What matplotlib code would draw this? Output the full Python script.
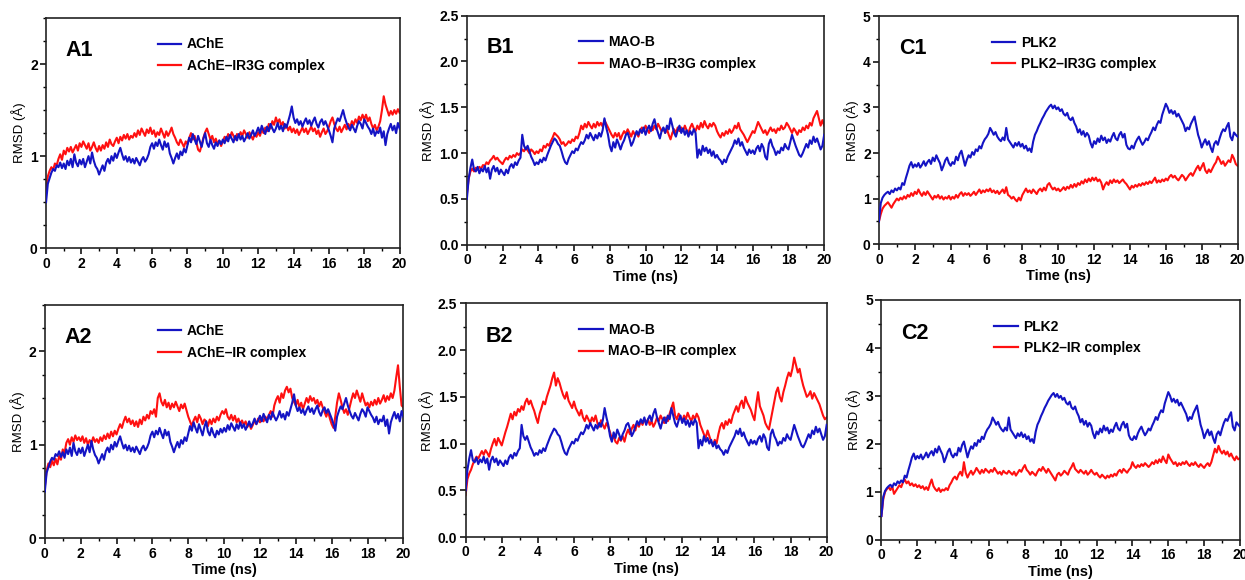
import matplotlib
matplotlib.use('Agg')
import matplotlib.pyplot as plt
from matplotlib.ticker import MultipleLocator
import numpy as np

plt.rcParams['font.family'] = ['Liberation Sans', 'DejaVu Sans']

# time axis, 0-20 ns every 0.1 ns
time_ns = np.round(np.arange(0, 20.01, 0.1), 1)

# RMSD traces (Å)
ache = [
    0.50, 0.70, 0.76, 0.82, 0.86, 0.84, 0.90, 0.88, 0.93, 0.87,
    0.92, 0.86, 0.95, 0.90, 0.97, 0.88, 1.02, 0.93, 0.89, 0.96,
    0.91, 0.97, 0.88, 0.94, 1.00, 0.92, 1.04, 0.95, 0.89, 0.86,
    0.80, 0.85, 0.90, 0.84, 0.93, 0.97, 0.92, 1.00, 0.95, 1.03,
    0.98, 1.04, 1.09, 1.02, 0.96, 1.00, 0.94, 0.99, 0.93, 0.97,
    0.92, 0.98, 0.94, 0.90, 0.96, 0.99, 0.94, 0.97, 1.02, 1.10,
    1.14, 1.08, 1.15, 1.11, 1.18, 1.12, 1.07, 1.16, 1.10, 1.14,
    1.03, 0.98, 0.92, 0.98, 1.03, 0.97, 1.05, 1.01, 1.08, 1.04,
    1.12, 1.20, 1.15, 1.24, 1.18, 1.13, 1.22, 1.16, 1.10, 1.19,
    1.25, 1.14, 1.10, 1.18, 1.12, 1.08, 1.15, 1.11, 1.17, 1.13,
    1.18, 1.14, 1.21, 1.16, 1.23, 1.19, 1.15, 1.22, 1.17, 1.24,
    1.18, 1.22, 1.16, 1.20, 1.25, 1.19, 1.23, 1.28, 1.22, 1.26,
    1.31, 1.25, 1.33, 1.28, 1.24, 1.32, 1.27, 1.35, 1.30, 1.26,
    1.30, 1.36, 1.29, 1.33, 1.27, 1.35, 1.31, 1.38, 1.45, 1.54,
    1.42, 1.36, 1.40, 1.34, 1.38, 1.32, 1.37, 1.41, 1.35, 1.39,
    1.33, 1.38, 1.42, 1.35, 1.31, 1.37, 1.40, 1.34, 1.38, 1.33,
    1.28, 1.22, 1.15, 1.30, 1.36, 1.41, 1.38, 1.44, 1.50, 1.42,
    1.36, 1.31, 1.28, 1.34, 1.30, 1.26, 1.33, 1.38, 1.35, 1.30,
    1.40, 1.36, 1.32, 1.29, 1.24, 1.30, 1.22, 1.27, 1.25, 1.31,
    1.20, 1.27, 1.12, 1.24, 1.30, 1.35, 1.28, 1.33, 1.25, 1.36,
    1.30]

ache_ir3g = [
    0.60, 0.78, 0.84, 0.88, 0.85, 0.92, 0.90, 0.97, 1.02, 0.96,
    1.06, 1.02, 1.09, 1.05, 1.10, 1.04, 1.08, 1.12, 1.06, 1.14,
    1.10, 1.16, 1.12, 1.08, 1.14, 1.06, 1.10, 1.15, 1.09, 1.05,
    1.11, 1.06, 1.12, 1.08, 1.15, 1.10, 1.18, 1.13, 1.11, 1.16,
    1.20, 1.14, 1.21, 1.17, 1.23, 1.19, 1.24, 1.18, 1.22, 1.20,
    1.25, 1.21, 1.28, 1.23, 1.30, 1.26, 1.22, 1.29, 1.25, 1.31,
    1.24, 1.28, 1.21, 1.26, 1.23, 1.30, 1.25, 1.20, 1.27, 1.22,
    1.26, 1.31, 1.24, 1.20, 1.15, 1.12, 1.18, 1.14, 1.10, 1.16,
    1.13, 1.20, 1.25, 1.18, 1.22, 1.15, 1.07, 1.05, 1.12, 1.20,
    1.26, 1.30, 1.24, 1.18, 1.22, 1.15, 1.19, 1.13, 1.17, 1.11,
    1.16, 1.21, 1.17, 1.24, 1.20, 1.26, 1.22, 1.18, 1.24, 1.21,
    1.26, 1.22, 1.28, 1.24, 1.20, 1.26, 1.22, 1.18, 1.24, 1.21,
    1.26, 1.22, 1.29, 1.25, 1.31, 1.27, 1.35, 1.30, 1.38, 1.34,
    1.42, 1.36, 1.40, 1.33, 1.37, 1.30, 1.34, 1.28, 1.32, 1.26,
    1.30, 1.25, 1.29, 1.23, 1.27, 1.31, 1.26, 1.30, 1.24, 1.28,
    1.32, 1.27, 1.30, 1.24, 1.28, 1.21, 1.26, 1.30, 1.24, 1.27,
    1.32, 1.38, 1.42, 1.35, 1.30, 1.27, 1.32, 1.26, 1.30, 1.34,
    1.29, 1.35, 1.31, 1.38, 1.34, 1.40, 1.36, 1.43, 1.39, 1.45,
    1.40, 1.45, 1.38, 1.42, 1.35, 1.30, 1.34, 1.28, 1.32, 1.38,
    1.50, 1.65, 1.56, 1.50, 1.44, 1.49, 1.45, 1.50, 1.46, 1.51,
    1.47]

ache_ir = [
    0.55, 0.72, 0.80, 0.76, 0.83, 0.78, 0.85, 0.79, 0.88, 0.84,
    0.95, 0.91, 1.02, 1.06, 1.00, 1.08, 1.03, 1.10, 1.05, 1.08,
    1.04, 1.09, 1.02, 1.07, 1.00, 1.05, 1.02, 1.08, 1.03, 1.06,
    1.02, 1.08, 1.04, 1.10, 1.06, 1.12, 1.07, 1.14, 1.09, 1.15,
    1.11, 1.17, 1.22, 1.18, 1.25, 1.30, 1.24, 1.28, 1.22, 1.26,
    1.20, 1.25, 1.19, 1.27, 1.22, 1.30, 1.26, 1.32, 1.28, 1.36,
    1.33, 1.38, 1.30, 1.50, 1.55, 1.46, 1.42, 1.48, 1.40, 1.45,
    1.38, 1.44, 1.40, 1.46, 1.41, 1.36, 1.43, 1.39, 1.44, 1.37,
    1.30, 1.25, 1.20, 1.26, 1.30, 1.24, 1.32, 1.28, 1.22, 1.27,
    1.25, 1.20, 1.27, 1.22, 1.28, 1.24, 1.30, 1.26, 1.32, 1.36,
    1.33, 1.38, 1.30, 1.27, 1.32, 1.26, 1.31, 1.24, 1.28, 1.22,
    1.26, 1.21, 1.25, 1.19, 1.23, 1.17, 1.21, 1.26, 1.22, 1.28,
    1.24, 1.29, 1.25, 1.30, 1.27, 1.32, 1.36, 1.30, 1.42, 1.48,
    1.52, 1.45, 1.55, 1.50, 1.58, 1.62, 1.56, 1.60, 1.50, 1.46,
    1.42, 1.48, 1.40, 1.45, 1.38, 1.44, 1.50, 1.45, 1.52, 1.47,
    1.50, 1.44, 1.48, 1.41, 1.46, 1.40, 1.35, 1.30, 1.36, 1.28,
    1.22, 1.18, 1.30, 1.45, 1.55, 1.48, 1.40, 1.34, 1.38, 1.32,
    1.40, 1.48, 1.55, 1.50, 1.58, 1.52, 1.46, 1.55, 1.48, 1.42,
    1.45, 1.40, 1.46, 1.42, 1.48, 1.43, 1.50, 1.44, 1.48, 1.53,
    1.46, 1.52, 1.48, 1.55, 1.50, 1.58, 1.72, 1.85, 1.62, 1.42,
    1.40]

maob = [
    0.50, 0.72, 0.84, 0.93, 0.82, 0.80, 0.85, 0.78, 0.83, 0.80,
    0.86, 0.79, 0.84, 0.72, 0.82, 0.86, 0.80, 0.84, 0.77, 0.82,
    0.79, 0.76, 0.82, 0.78, 0.85, 0.88, 0.84, 0.90, 0.87, 0.92,
    0.95, 1.20, 1.08, 1.04, 1.08, 1.02, 0.96, 0.92, 0.87, 0.90,
    0.88, 0.93, 0.90, 0.95, 0.92, 0.98, 1.03, 1.08, 1.12, 1.16,
    1.14, 1.10, 1.08, 1.02, 0.95, 0.90, 0.88, 0.94, 0.98, 1.02,
    1.00, 1.05, 1.03, 1.08, 1.12, 1.10, 1.14, 1.20, 1.16, 1.22,
    1.18, 1.14, 1.20, 1.16, 1.22, 1.18, 1.25, 1.38, 1.28, 1.20,
    1.08, 1.02, 1.12, 1.06, 1.15, 1.10, 1.04, 1.10, 1.14, 1.20,
    1.22, 1.16, 1.08, 1.12, 1.18, 1.24, 1.20, 1.26, 1.22, 1.28,
    1.20, 1.26, 1.30, 1.24, 1.32, 1.37, 1.28, 1.22, 1.16, 1.24,
    1.28, 1.22, 1.30, 1.26, 1.38, 1.30, 1.22, 1.18, 1.25, 1.30,
    1.22, 1.27, 1.20, 1.25, 1.18, 1.24, 1.20, 1.26, 1.22, 0.95,
    1.04, 0.98, 1.08, 1.02, 1.06, 1.00, 1.04, 0.97, 1.02, 0.95,
    0.98, 0.94, 0.92, 0.88, 0.93, 0.90, 0.96, 1.00, 1.04, 1.08,
    1.14, 1.10, 1.16, 1.08, 1.12, 1.06, 1.02, 0.98, 1.04, 1.00,
    1.03, 0.99, 1.05, 1.08, 1.02, 1.10, 1.06, 0.96, 0.93, 1.10,
    1.15, 1.08, 1.04, 0.98, 1.02, 1.00, 1.06, 1.03, 1.10, 1.06,
    1.04, 1.12, 1.20, 1.14, 1.08, 1.03, 0.98, 0.96, 1.00, 1.05,
    1.10, 1.06, 1.14, 1.10, 1.18, 1.12, 1.16, 1.10, 1.04, 1.08,
    1.20]

maob_ir3g = [
    0.55, 0.72, 0.80, 0.83, 0.80, 0.84, 0.82, 0.85, 0.83, 0.87,
    0.86, 0.90, 0.88, 0.92, 0.94, 0.97, 0.93, 0.95, 0.92, 0.90,
    0.88, 0.92, 0.95, 0.93, 0.97, 0.95, 0.98, 0.96, 1.00, 0.98,
    1.00, 1.04, 1.02, 1.06, 1.03, 1.00, 1.04, 1.02, 0.99, 1.02,
    1.00, 1.04, 1.02, 1.08, 1.06, 1.10, 1.08, 1.13, 1.17, 1.22,
    1.20, 1.18, 1.15, 1.10, 1.12, 1.08, 1.10, 1.13, 1.11, 1.15,
    1.13, 1.18, 1.16, 1.22, 1.30, 1.26, 1.32, 1.28, 1.34, 1.30,
    1.27, 1.32, 1.28, 1.34, 1.30, 1.33, 1.29, 1.36, 1.32, 1.28,
    1.24, 1.20, 1.17, 1.22, 1.18, 1.22, 1.15, 1.20, 1.24, 1.21,
    1.26, 1.22, 1.18, 1.24, 1.20, 1.22, 1.18, 1.25, 1.28, 1.24,
    1.30, 1.26, 1.22, 1.28, 1.25, 1.30, 1.26, 1.32, 1.28, 1.24,
    1.27, 1.22, 1.26, 1.20, 1.15, 1.22, 1.26, 1.22, 1.28, 1.24,
    1.28, 1.24, 1.30, 1.25, 1.22, 1.28, 1.32, 1.27, 1.24, 1.30,
    1.26, 1.33, 1.28, 1.35, 1.30, 1.27, 1.32, 1.29, 1.33, 1.30,
    1.24, 1.20, 1.17, 1.22, 1.19, 1.24, 1.21, 1.26, 1.22, 1.25,
    1.30, 1.27, 1.33, 1.26, 1.23, 1.20, 1.16, 1.12, 1.16, 1.20,
    1.24, 1.22, 1.28, 1.34, 1.30, 1.26, 1.22, 1.25, 1.20, 1.24,
    1.28, 1.24, 1.26, 1.22, 1.27, 1.25, 1.30, 1.26, 1.28, 1.33,
    1.30, 1.26, 1.22, 1.27, 1.24, 1.20, 1.25, 1.23, 1.28, 1.25,
    1.30, 1.27, 1.33, 1.30, 1.38, 1.42, 1.46, 1.38, 1.30, 1.36,
    1.30]

maob_ir = [
    0.45, 0.62, 0.68, 0.72, 0.78, 0.82, 0.86, 0.84, 0.88, 0.92,
    0.88, 0.93, 0.90, 0.86, 0.94, 1.00, 1.05, 0.98, 1.06, 1.02,
    0.98, 1.05, 1.12, 1.18, 1.25, 1.32, 1.26, 1.34, 1.30, 1.37,
    1.34, 1.40, 1.36, 1.44, 1.48, 1.42, 1.46, 1.40, 1.35, 1.28,
    1.22, 1.32, 1.38, 1.45, 1.42, 1.50, 1.56, 1.62, 1.70, 1.76,
    1.62, 1.70, 1.65, 1.58, 1.52, 1.48, 1.55, 1.46, 1.42, 1.38,
    1.45, 1.38, 1.34, 1.30, 1.36, 1.28, 1.24, 1.30, 1.26, 1.22,
    1.28, 1.24, 1.30, 1.22, 1.18, 1.25, 1.20, 1.16, 1.22, 1.18,
    1.12, 1.05, 1.08, 1.02, 1.00, 1.06, 1.03, 1.08, 1.02, 1.10,
    1.15, 1.10, 1.16, 1.20, 1.14, 1.22, 1.18, 1.24, 1.20, 1.26,
    1.22, 1.26, 1.20, 1.24, 1.18, 1.22, 1.28, 1.24, 1.30, 1.26,
    1.22, 1.28, 1.24, 1.32, 1.38, 1.44, 1.30, 1.26, 1.32, 1.28,
    1.24, 1.30, 1.26, 1.33, 1.28, 1.24, 1.30, 1.26, 1.32, 1.28,
    1.20, 1.15, 1.10, 1.06, 1.14, 1.08, 1.02, 0.98, 1.04, 1.00,
    1.10, 1.18, 1.22, 1.16, 1.24, 1.20, 1.26, 1.22, 1.30, 1.35,
    1.40, 1.34, 1.42, 1.46, 1.38, 1.50, 1.44, 1.40, 1.36, 1.30,
    1.25, 1.42, 1.55, 1.40, 1.35, 1.30, 1.22, 1.18, 1.15, 1.25,
    1.35, 1.45, 1.55, 1.60, 1.50, 1.45, 1.55, 1.62, 1.70, 1.76,
    1.72, 1.80, 1.92, 1.84, 1.76, 1.80, 1.70, 1.62, 1.56, 1.50,
    1.52, 1.56, 1.48, 1.54, 1.50, 1.46, 1.42, 1.36, 1.30, 1.26,
    1.28]

plk2 = [
    0.50, 0.90, 1.02, 1.08, 1.12, 1.15, 1.10, 1.18, 1.14, 1.22,
    1.18, 1.24, 1.20, 1.34, 1.30, 1.45, 1.58, 1.72, 1.80, 1.68,
    1.75, 1.70, 1.78, 1.68, 1.74, 1.82, 1.72, 1.80, 1.85, 1.76,
    1.90, 1.82, 1.95, 1.86, 1.78, 1.62, 1.72, 1.84, 1.90, 1.78,
    1.72, 1.80, 1.76, 1.92, 1.84, 1.98, 2.05, 1.88, 1.72, 1.85,
    1.95, 1.90, 2.02, 1.96, 2.08, 2.04, 2.15, 2.10, 2.22, 2.30,
    2.35, 2.42, 2.55, 2.48, 2.40, 2.46, 2.36, 2.30, 2.26, 2.34,
    2.28, 2.55, 2.30, 2.24, 2.18, 2.12, 2.22, 2.16, 2.24, 2.14,
    2.20, 2.10, 2.16, 2.05, 2.10, 2.02, 2.25, 2.40, 2.48, 2.58,
    2.66, 2.75, 2.82, 2.90, 2.96, 3.02, 3.06, 2.98, 3.04, 2.96,
    3.00, 2.92, 2.96, 2.86, 2.82, 2.88, 2.76, 2.72, 2.78, 2.66,
    2.58, 2.45, 2.52, 2.40, 2.48, 2.36, 2.44, 2.38, 2.22, 2.12,
    2.26, 2.20, 2.32, 2.24, 2.38, 2.28, 2.34, 2.22, 2.30, 2.25,
    2.36, 2.44, 2.32, 2.28, 2.40, 2.46, 2.34, 2.42, 2.18, 2.10,
    2.08, 2.16, 2.10, 2.22, 2.30, 2.36, 2.26, 2.18, 2.24, 2.32,
    2.28, 2.38, 2.46, 2.56, 2.50, 2.62, 2.70, 2.66, 2.84, 2.96,
    3.08, 3.00, 2.88, 2.94, 2.86, 2.92, 2.80, 2.86, 2.78, 2.70,
    2.62, 2.48, 2.56, 2.52, 2.64, 2.72, 2.80, 2.60, 2.40, 2.28,
    2.12, 2.22, 2.30, 2.18, 2.26, 2.12, 2.02, 2.20, 2.26, 2.18,
    2.32, 2.44, 2.52, 2.48, 2.58, 2.66, 2.36, 2.28, 2.45, 2.40,
    2.36]

plk2_ir3g = [
    0.50, 0.66, 0.78, 0.84, 0.88, 0.92, 0.86, 0.80, 0.88, 0.94,
    1.00, 0.96, 1.02, 0.98, 1.05, 1.00, 1.08, 1.04, 1.12, 1.06,
    1.15, 1.10, 1.20, 1.12, 1.06, 1.14, 1.08, 1.16, 1.10, 1.04,
    0.98, 1.06, 1.02, 1.08, 1.00, 1.05, 0.98, 1.03, 1.00, 1.06,
    0.98, 1.04, 1.00, 1.08, 1.02, 1.10, 1.14, 1.06, 1.12, 1.08,
    1.12, 1.06, 1.10, 1.15, 1.08, 1.14, 1.20, 1.12, 1.18, 1.14,
    1.20, 1.16, 1.22, 1.14, 1.18, 1.12, 1.17, 1.10, 1.15, 1.20,
    1.12, 1.25, 1.08, 1.05, 1.00, 1.04, 0.98, 0.94, 1.02, 0.96,
    1.08, 1.15, 1.22, 1.14, 1.18, 1.12, 1.20, 1.15, 1.10, 1.18,
    1.22, 1.16, 1.24, 1.18, 1.30, 1.34, 1.26, 1.20, 1.24, 1.18,
    1.22, 1.16, 1.20, 1.25, 1.19, 1.26, 1.22, 1.30, 1.24, 1.32,
    1.26, 1.34, 1.30, 1.38, 1.33, 1.42, 1.36, 1.44, 1.38, 1.46,
    1.40, 1.46, 1.38, 1.42, 1.35, 1.20, 1.30, 1.36, 1.30, 1.40,
    1.34, 1.42, 1.36, 1.40, 1.34, 1.38, 1.42, 1.36, 1.32, 1.26,
    1.20, 1.28, 1.24, 1.30, 1.26, 1.32, 1.28, 1.34, 1.30, 1.36,
    1.32, 1.38, 1.34, 1.40, 1.46, 1.35, 1.40, 1.36, 1.42, 1.38,
    1.44, 1.40, 1.48, 1.52, 1.46, 1.50, 1.44, 1.40, 1.46, 1.52,
    1.48, 1.40, 1.46, 1.52, 1.56, 1.50, 1.58, 1.66, 1.72, 1.62,
    1.70, 1.78, 1.62, 1.56, 1.64, 1.58, 1.66, 1.74, 1.80, 1.92,
    1.85, 1.76, 1.82, 1.72, 1.78, 1.84, 1.80, 1.96, 1.88, 1.76,
    1.72]

plk2_ir = [
    0.50, 0.85, 1.00, 1.06, 1.10, 1.04, 1.12, 0.96, 1.02, 1.08,
    1.14, 1.10, 1.20, 1.26, 1.18, 1.22, 1.14, 1.18, 1.12, 1.16,
    1.10, 1.14, 1.08, 1.12, 1.05, 1.10, 1.04, 1.16, 1.26, 1.12,
    1.06, 1.02, 1.08, 1.00, 1.05, 1.03, 1.08, 1.04, 1.14, 1.20,
    1.28, 1.32, 1.26, 1.36, 1.42, 1.34, 1.62, 1.40, 1.30, 1.38,
    1.44, 1.36, 1.42, 1.50, 1.44, 1.38, 1.46, 1.40, 1.48, 1.44,
    1.40, 1.46, 1.42, 1.50, 1.44, 1.38, 1.42, 1.36, 1.44, 1.40,
    1.38, 1.44, 1.40, 1.36, 1.42, 1.34, 1.40, 1.46, 1.42, 1.50,
    1.56, 1.46, 1.42, 1.36, 1.42, 1.38, 1.34, 1.42, 1.48, 1.44,
    1.52, 1.46, 1.40, 1.48, 1.42, 1.36, 1.30, 1.24, 1.36, 1.40,
    1.34, 1.38, 1.44, 1.40, 1.36, 1.46, 1.52, 1.60, 1.48, 1.44,
    1.40, 1.46, 1.42, 1.38, 1.44, 1.36, 1.40, 1.46, 1.40, 1.36,
    1.40, 1.34, 1.30, 1.36, 1.32, 1.28, 1.34, 1.30, 1.36, 1.32,
    1.38, 1.34, 1.42, 1.46, 1.40, 1.48, 1.44, 1.40, 1.46, 1.50,
    1.62, 1.54, 1.50, 1.56, 1.52, 1.58, 1.54, 1.60, 1.56, 1.52,
    1.56, 1.62, 1.58, 1.66, 1.60, 1.68, 1.62, 1.74, 1.66, 1.60,
    1.78, 1.70, 1.64, 1.58, 1.62, 1.54, 1.60, 1.56, 1.62, 1.58,
    1.64, 1.58, 1.54, 1.60, 1.56, 1.62, 1.56, 1.52, 1.58, 1.54,
    1.50, 1.56, 1.60, 1.54, 1.62, 1.76, 1.90, 1.82, 1.96, 1.86,
    1.80, 1.86, 1.78, 1.84, 1.74, 1.80, 1.72, 1.66, 1.74, 1.68,
    1.70]

BLUE = '#1414c4'
RED = '#ff1010'

# panel: (label, axes rect, apo trace, complex trace, legend texts, ylim, major, minor, xlabel)
panels = [
    ('A1', [0.037, 0.572, 0.284, 0.397], ache, ache_ir3g,
     ['AChE', 'AChE\u2013IR3G complex'], 2.5, 1, 0.25, False),
    ('B1', [0.375, 0.578, 0.287, 0.395], maob, maob_ir3g,
     ['MAO-B', 'MAO-B\u2013IR3G complex'], 2.5, 0.5, 0.25, True),
    ('C1', [0.706, 0.579, 0.288, 0.393], plk2, plk2_ir3g,
     ['PLK2', 'PLK2\u2013IR3G complex'], 5, 1, 0.5, True),
    ('A2', [0.036, 0.072, 0.288, 0.403], ache, ache_ir,
     ['AChE', 'AChE\u2013IR complex'], 2.5, 1, 0.25, True),
    ('B2', [0.374, 0.074, 0.290, 0.403], maob, maob_ir,
     ['MAO-B', 'MAO-B\u2013IR complex'], 2.5, 0.5, 0.25, True),
    ('C2', [0.708, 0.069, 0.288, 0.414], plk2, plk2_ir,
     ['PLK2', 'PLK2\u2013IR complex'], 5, 1, 0.5, True),
]

fig = plt.figure(figsize=(12.45, 5.8), dpi=100)

for label, rect, apo, cplx, names, ytop, ymaj, ymin, show_x in panels:
    ax = fig.add_axes(rect)
    ax.plot(time_ns, apo, color=BLUE, lw=1.5, label=names[0], zorder=3)
    ax.plot(time_ns, cplx, color=RED, lw=1.5, label=names[1], zorder=2)
    ax.set_xlim(0, 20)
    ax.set_ylim(0, ytop)
    ax.xaxis.set_major_locator(MultipleLocator(2))
    ax.xaxis.set_minor_locator(MultipleLocator(1))
    ax.yaxis.set_major_locator(MultipleLocator(ymaj))
    ax.yaxis.set_minor_locator(MultipleLocator(ymin))
    if ymaj == 0.5:
        ax.yaxis.set_major_formatter(plt.FormatStrFormatter('%.1f'))
    ax.tick_params(which='major', direction='out', length=4, width=1.1,
                   labelsize=10, pad=2)
    ax.tick_params(which='minor', direction='out', length=2.5, width=1)
    for t in ax.get_xticklabels() + ax.get_yticklabels():
        t.set_fontweight('bold')
    for sp in ax.spines.values():
        sp.set_linewidth(1.2)
        sp.set_color('#222222')
    ax.set_ylabel('RMSD (\u00c5)', fontsize=9.5, labelpad=3)
    if show_x:
        ax.set_xlabel('Time (ns)', fontsize=10.5, fontweight='bold', labelpad=2)
    ax.text(0.055, 0.86, label, transform=ax.transAxes, fontsize=15.5,
            fontweight='bold', va='center', ha='left')
    handles, _ = ax.get_legend_handles_labels()
    leg = ax.legend(handles, names, loc='upper left', bbox_to_anchor=(0.28, 0.97),
                    frameon=False, handlelength=1.7, handletextpad=0.4,
                    labelspacing=0.55, prop={'size': 10, 'weight': 'bold'})
    for h in leg.get_lines():
        h.set_linewidth(1.6)

fig.savefig('out.png', dpi=100)
